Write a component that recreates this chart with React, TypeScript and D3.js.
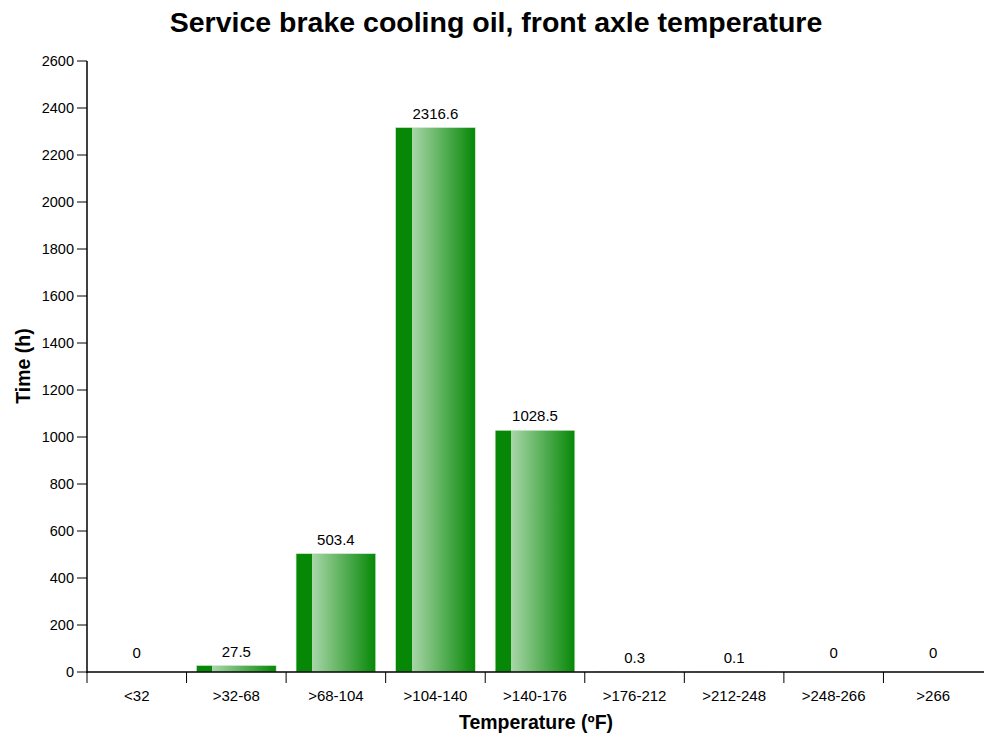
import React from "react";
import * as d3 from "d3";

const categories = ["<32", ">32-68", ">68-104", ">104-140", ">140-176", ">176-212", ">212-248", ">248-266", ">266"];
const values = [0, 27.5, 503.4, 2316.6, 1028.5, 0.3, 0.1, 0, 0];
const valueLabels = ["0", "27.5", "503.4", "2316.6", "1028.5", "0.3", "0.1", "0", "0"];
const yTicks = [0, 200, 400, 600, 800, 1000, 1200, 1400, 1600, 1800, 2000, 2200, 2400, 2600];

const W = 984;
const H = 737;
const left = 87;
const right = 983;
const top = 61;
const bottom = 672;
const font = "'Liberation Sans', Arial, sans-serif";

export default function App() {
  const x = d3.scaleBand<string>().domain(categories).range([left, right]).paddingInner(0.2).paddingOuter(0.1);
  const xb = d3.scaleBand<string>().domain(categories).range([left, right]);
  const y = d3.scaleLinear().domain([0, 2600]).range([bottom, top]);

  return (
    <div style={{ position: "fixed", left: 0, top: 0 }}>
      <svg width={W} height={H} style={{ display: "block", background: "#fff" }}>
        <defs>
          <linearGradient id="barGrad" x1="0" x2="1" y1="0" y2="0">
            <stop offset="0%" stopColor="#068806" />
            <stop offset="20%" stopColor="#068806" />
            <stop offset="20%" stopColor="#a9d6a9" />
            <stop offset="100%" stopColor="#068806" />
          </linearGradient>
        </defs>
        <text x={496} y={32} textAnchor="middle" fontFamily={font} fontWeight="bold" fontSize={28.5} fill="#000">
          Service brake cooling oil, front axle temperature
        </text>
        {/* bars */}
        {categories.map((c, i) => {
          const v = values[i];
          const yt = y(v);
          return (
            <g key={c}>
              {v > 0 && (
                <rect x={x(c)} y={yt} width={x.bandwidth()} height={bottom - yt} fill="url(#barGrad)" stroke="#cfe8cf" strokeWidth={0.6} />
              )}
              <text x={(x(c) as number) + x.bandwidth() / 2} y={v === 0 ? yt - 14 : yt - 9} textAnchor="middle" fontFamily={font} fontSize={15} fill="#000">
                {valueLabels[i]}
              </text>
            </g>
          );
        })}
        {/* y axis */}
        <line x1={left} x2={left} y1={top} y2={bottom + 1} stroke="#000" strokeWidth={1.5} />
        {yTicks.map((t) => (
          <g key={t}>
            <line x1={left - 10} x2={left} y1={y(t)} y2={y(t)} stroke="#000" strokeWidth={1} />
            <text x={left - 13} y={y(t)} dy="0.35em" textAnchor="end" fontFamily={font} fontSize={14.5} fill="#000">
              {t}
            </text>
          </g>
        ))}
        {/* x axis */}
        <line x1={left} x2={W} y1={bottom} y2={bottom} stroke="#000" strokeWidth={1.5} />
        {categories.map((c) => (
          <g key={c}>
            <line x1={xb(c)} x2={xb(c)} y1={bottom} y2={bottom + 11} stroke="#000" strokeWidth={1} />
            <text x={(xb(c) as number) + xb.bandwidth() / 2} y={701} textAnchor="middle" fontFamily={font} fontSize={15} fill="#000">
              {c}
            </text>
          </g>
        ))}
        <text x={536} y={729} textAnchor="middle" fontFamily={font} fontWeight="bold" fontSize={19.5} fill="#000">
          Temperature (ºF)
        </text>
        <text transform="translate(30,366) rotate(-90)" textAnchor="middle" fontFamily={font} fontWeight="bold" fontSize={19.5} fill="#000">
          Time (h)
        </text>
      </svg>
    </div>
  );
}
